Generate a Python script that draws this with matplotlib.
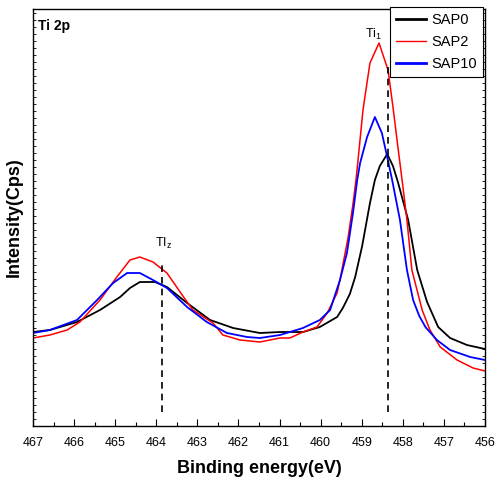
import matplotlib
matplotlib.use("Agg")
import matplotlib.pyplot as plt
from matplotlib.ticker import MultipleLocator, NullFormatter

plt.rcParams['font.family'] = ['Liberation Sans', 'DejaVu Sans']

# binding energy (eV) and intensity (arb. counts)
sap0_e = [467.00, 466.59, 465.93, 465.37, 464.88, 464.64, 464.40, 464.03, 463.74, 463.25,
          462.69, 462.13, 461.48, 460.99, 460.43, 460.02, 459.60, 459.46, 459.29, 459.16,
          458.99, 458.80, 458.68, 458.56, 458.38, 458.24, 458.12, 457.87, 457.65, 457.41,
          457.14, 456.85, 456.44, 456.00]
sap0_i = [94, 96, 104, 116, 129, 138, 144, 144, 139, 123,
          106, 98, 93, 94, 94, 99, 109, 118, 132, 149,
          180, 223, 246, 260, 272, 260, 244, 206, 156, 124,
          99, 88, 81, 77]

sap2_e = [467.00, 466.59, 466.17, 465.86, 465.37, 464.96, 464.64, 464.40, 464.08, 463.74,
          463.42, 463.11, 462.62, 462.38, 461.96, 461.48, 460.99, 460.75, 460.43, 460.09,
          459.84, 459.60, 459.53, 459.33, 459.21, 459.14, 459.09, 458.97, 458.80, 458.58,
          458.36, 458.24, 458.12, 458.00, 457.90, 457.78, 457.53, 457.34, 457.09, 456.68,
          456.29, 456.00]
sap2_i = [88, 91, 96, 104, 126, 149, 166, 169, 164, 153,
          134, 116, 103, 91, 86, 84, 88, 88, 94, 99,
          113, 133, 146, 189, 223, 246, 266, 316, 363, 383,
          356, 319, 279, 240, 206, 156, 116, 96, 79, 66,
          58, 55]

sap10_e = [467.00, 466.59, 465.93, 465.44, 465.05, 464.71, 464.40, 464.08, 463.74, 463.25,
           462.77, 462.28, 461.79, 461.48, 460.99, 460.75, 460.43, 460.02, 459.77, 459.53,
           459.36, 459.21, 459.11, 459.04, 458.87, 458.68, 458.51, 458.38, 458.26, 458.07,
           457.90, 457.75, 457.60, 457.45, 457.30, 457.17, 456.85, 456.36, 456.00]
sap10_i = [93, 96, 106, 126, 143, 153, 153, 146, 138, 119,
           104, 93, 89, 88, 91, 94, 98, 106, 116, 146,
           173, 214, 246, 263, 289, 309, 293, 269, 246, 206,
           156, 126, 110, 99, 92, 86, 76, 69, 66]

peak_pos = [458.35, 463.85]
peak_top = [361, 161]
peak_names = [r'Ti$_\mathregular{1}$', r'TI$_\mathregular{z}$']
label_e = [458.92, 464.03]
label_i = [388, 179]

fig = plt.figure(figsize=(4.97, 4.90), dpi=100)
ax = fig.add_axes([0.0664, 0.1306, 0.9095, 0.851])

ax.plot(sap0_e, sap0_i, color='black', lw=1.3, label='SAP0')
ax.plot(sap2_e, sap2_i, color='red', lw=1.1, label='SAP2')
ax.plot(sap10_e, sap10_i, color='blue', lw=1.3, label='SAP10')

# dashed markers for the two components
for pos, top, name, le, li in zip(peak_pos, peak_top, peak_names, label_e, label_i):
    ax.plot([pos, pos], [14, top], color='black', lw=1.2, ls=(0, (4, 3)))
    ax.text(le, li, name, fontsize=9, ha='left', va='baseline')

ax.text(0.01, 0.975, 'Ti 2p', transform=ax.transAxes, fontsize=10,
        fontweight='bold', ha='left', va='top')

ax.set_xlim(467, 456)
ax.set_ylim(0, 417)
ax.xaxis.set_major_locator(MultipleLocator(1))
ax.xaxis.set_minor_locator(MultipleLocator(0.5))
ax.yaxis.set_major_locator(MultipleLocator(35))
ax.yaxis.set_minor_locator(MultipleLocator(7))
ax.yaxis.set_major_formatter(NullFormatter())
ax.tick_params(axis='x', which='major', direction='in', length=5, width=0.8,
               labelsize=9, pad=8)
ax.tick_params(axis='x', which='minor', direction='in', length=3, width=0.8)
ax.tick_params(axis='y', which='both', direction='in', left=True, right=True,
               length=2, width=0.6)
for s in ax.spines.values():
    s.set_linewidth(1.0)

ax.set_xlabel('Binding energy(eV)', fontsize=13, fontweight='bold', labelpad=8)
ax.set_ylabel('Intensity(Cps)', fontsize=13, fontweight='bold', labelpad=4)

leg = ax.legend(loc='upper right', bbox_to_anchor=(0.9956, 1.005), fontsize=10.5,
                frameon=True, fancybox=False, edgecolor='black', framealpha=1,
                borderaxespad=0, borderpad=0.4, handlelength=2.1,
                handletextpad=0.35, labelspacing=0.55)
leg.get_frame().set_linewidth(0.8)
for line, w in zip(leg.get_lines(), [2.0, 1.0, 2.0]):
    line.set_linewidth(w)

fig.savefig('out.png', dpi=100)
